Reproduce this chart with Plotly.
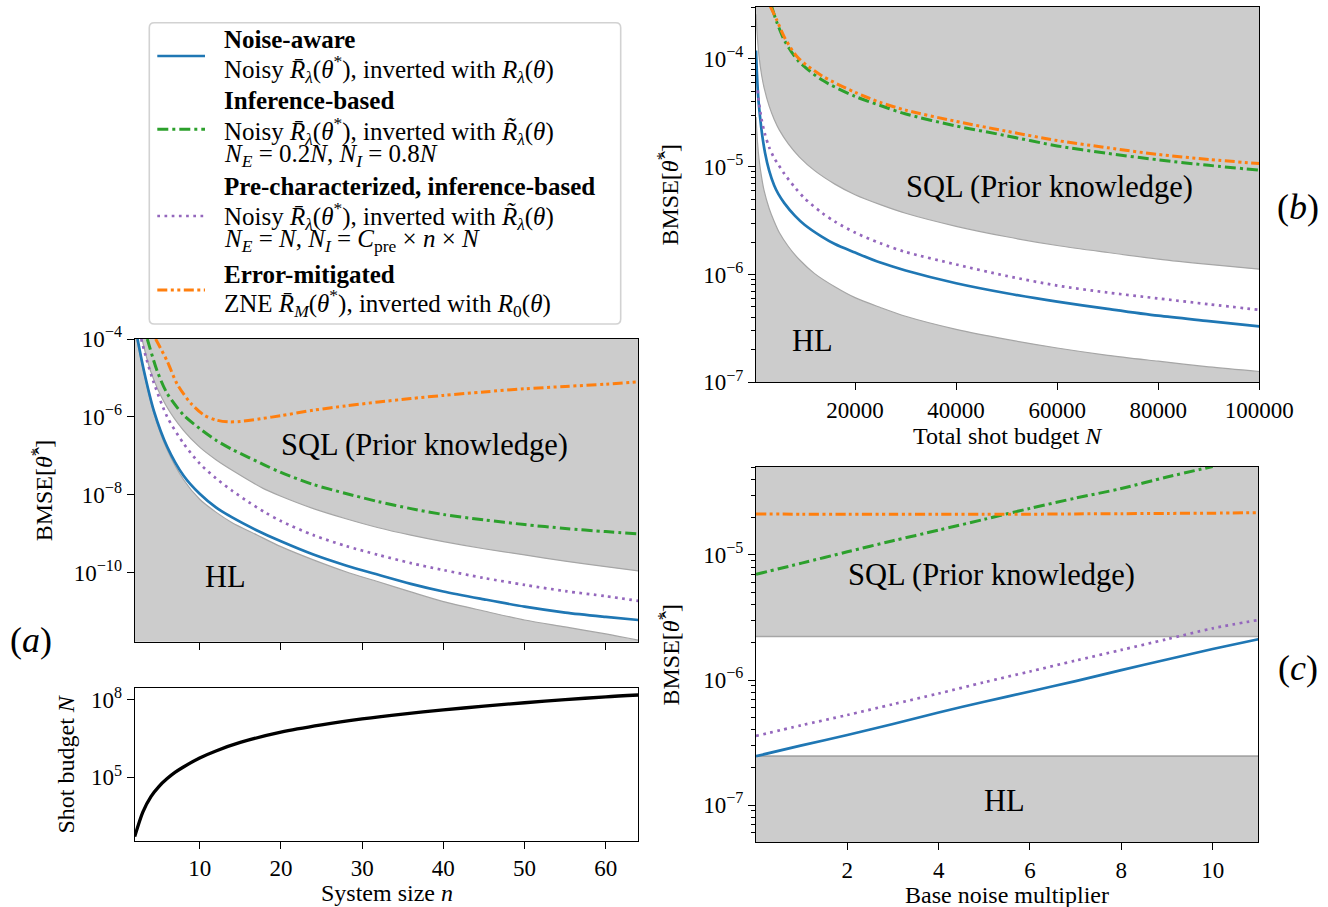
import plotly.graph_objects as go

# ---------------- data ----------------
# Panel (a): BMSE vs system size n
n_blue_a = [2.35, 3.15, 4.38, 6, 8, 10, 12, 14, 17, 20, 24, 28, 32, 36, 40, 45, 50, 55, 60, 64]
bmse_blue_a = [1.0e-4, 1.48e-5, 1.38e-6, 1.70e-7, 3.1e-8, 1.05e-8, 4.7e-9, 2.6e-9, 1.22e-9, 6.3e-10,
               2.88e-10, 1.51e-10, 8.7e-11, 5.1e-11, 3.24e-11, 2.04e-11, 1.32e-11, 9.3e-12, 7.2e-12, 6.0e-12]
n_purple_a = [2.8, 3.5, 4.3, 6, 8, 10, 12, 14, 16, 18, 20, 24, 28, 32, 36, 40, 45, 50, 55, 60, 64]
bmse_purple_a = [1.0e-4, 2.82e-5, 8.1e-6, 1.0e-6, 2.09e-7, 6.3e-8, 2.63e-8, 1.26e-8, 6.5e-9, 3.55e-9, 2.09e-9,
                 9.1e-10, 4.79e-10, 2.82e-10, 1.74e-10, 1.15e-10, 7.2e-11, 4.79e-11, 3.31e-11, 2.45e-11, 1.86e-11]
n_green_a = [3.55, 4.78, 6, 8, 10, 12, 14, 16, 18, 20, 24, 28, 32, 36, 40, 45, 50, 55, 60, 64]
bmse_green_a = [1.0e-4, 1.48e-5, 3.98e-6, 1.12e-6, 5.0e-7, 2.51e-7, 1.45e-7, 9.1e-8, 5.75e-8, 3.72e-8,
                1.82e-8, 1.07e-8, 6.6e-9, 4.37e-9, 3.09e-9, 2.24e-9, 1.70e-9, 1.35e-9, 1.12e-9, 9.8e-10]
n_orange_a = [4.58, 6, 7.25, 8.9, 10.5, 12, 13.5, 15, 17.5, 20, 24, 28, 32, 36, 40, 45, 50, 55, 60, 64]
bmse_orange_a = [1.0e-4, 2.69e-5, 6.8e-6, 2.24e-6, 1.12e-6, 8.3e-7, 7.4e-7, 7.6e-7, 8.9e-7, 1.07e-6,
                 1.48e-6, 1.91e-6, 2.40e-6, 2.95e-6, 3.55e-6, 4.37e-6, 5.25e-6, 6.03e-6, 6.9e-6, 7.9e-6]
n_sql_a = [2.9, 4, 5.8, 8, 10, 12, 14.2, 17.8, 20, 24, 28, 32, 36, 40, 45, 50, 55, 60, 64]
bmse_sql_a = [1.0e-4, 1.41e-5, 2.04e-6, 4.47e-7, 1.66e-7, 7.9e-8, 3.98e-8, 1.45e-8, 9.1e-9, 4.37e-9,
              2.40e-9, 1.41e-9, 9.1e-10, 6.2e-10, 4.07e-10, 2.82e-10, 1.95e-10, 1.41e-10, 1.10e-10]
n_hl_a = [2.25, 3.15, 4.38, 6, 8, 10, 12, 14, 17, 20, 24, 28, 32, 36, 40, 45, 50, 55, 60, 64]
bmse_hl_a = [1.0e-4, 1.30e-5, 1.20e-6, 1.42e-7, 2.45e-8, 7.6e-9, 3.55e-9, 1.90e-9, 9.3e-10, 4.6e-10,
             2.10e-10, 1.04e-10, 5.75e-11, 3.16e-11, 1.78e-11, 1.02e-11, 6.0e-12, 3.98e-12, 2.63e-12, 1.82e-12]

# Panel (a) bottom: shot budget vs n
n_budget = [2, 3, 4, 5, 6, 7, 8, 10, 12, 15, 20, 25, 30, 35, 40, 45, 50, 55, 60, 64]
shots_budget = [500, 4470, 1.78e4, 4.47e4, 8.9e4, 1.58e5, 2.51e5, 5.6e5, 1.05e6, 2.24e6, 5.6e6,
                1.07e7, 1.82e7, 2.82e7, 4.07e7, 5.75e7, 7.76e7, 1.02e8, 1.32e8, 1.55e8]

# Panel (b): BMSE vs total shot budget N
N_blue_b = [400, 600, 857, 1200, 1600, 2180, 3000, 4000, 4810, 6000, 8120, 10000, 13400, 16000, 20000,
            25000, 30000, 40000, 50000, 60000, 70000, 80000, 90000, 100000]
bmse_blue_b = [1.2e-4, 7.0e-5, 4.3e-5, 2.9e-5, 2.0e-5, 1.35e-5, 9.2e-6, 6.7e-6, 5.6e-6, 4.6e-6, 3.5e-6,
               2.9e-6, 2.25e-6, 1.92e-6, 1.6e-6, 1.29e-6, 1.09e-6, 8.3e-7, 6.7e-7, 5.6e-7, 4.8e-7,
               4.15e-7, 3.7e-7, 3.3e-7]
N_purple_b = [730, 1000, 1500, 2180, 3000, 4000, 4810, 6000, 8120, 10000, 13400, 16000, 20000, 25000,
              30000, 40000, 50000, 60000, 70000, 80000, 90000, 100000]
bmse_purple_b = [5.1e-5, 3.9e-5, 2.75e-5, 2.0e-5, 1.52e-5, 1.2e-5, 1.05e-5, 8.6e-6, 6.4e-6, 5.1e-6,
                 3.75e-6, 3.1e-6, 2.45e-6, 1.95e-6, 1.62e-6, 1.24e-6, 9.7e-7, 7.9e-7, 6.8e-7, 6.0e-7,
                 5.3e-7, 4.7e-7]
N_green_b = [3500, 4500, 6140, 8770, 13400, 20000, 25000, 29900, 39800, 49700, 60000, 70000, 80000,
             90000, 100000]
bmse_green_b = [3.05e-4, 2.2e-4, 1.45e-4, 9.6e-5, 6.4e-5, 4.5e-5, 3.7e-5, 3.1e-5, 2.4e-5, 1.95e-5,
                1.56e-5, 1.33e-5, 1.16e-5, 1.03e-5, 9.3e-6]
N_orange_b = [3200, 4500, 6140, 8770, 13400, 20000, 25000, 30000, 39800, 49700, 60000, 70000, 80000,
              90000, 100000]
bmse_orange_b = [3.1e-4, 2.3e-4, 1.55e-4, 1.02e-4, 7.0e-5, 4.9e-5, 3.95e-5, 3.35e-5, 2.65e-5, 2.15e-5,
                 1.75e-5, 1.5e-5, 1.3e-5, 1.17e-5, 1.07e-5]
N_bounds_b = [400, 700, 1000, 1500, 2000, 3000, 4000, 5000, 6800, 9000, 12000, 16000, 20000, 25000,
              30000, 40000, 50000, 60000, 70000, 80000, 90000, 100000]
bmse_sql_b = [2.6e-4, 1.5e-4, 1.05e-4, 7.1e-5, 5.4e-5, 3.65e-5, 2.75e-5, 2.2e-5, 1.63e-5, 1.23e-5,
              9.2e-6, 6.9e-6, 5.5e-6, 4.45e-6, 3.7e-6, 2.8e-6, 2.24e-6, 1.86e-6, 1.6e-6, 1.39e-6,
              1.24e-6, 1.12e-6]
bmse_hl_b = [2.9e-5, 1.68e-5, 1.18e-5, 8.0e-6, 6.0e-6, 4.1e-6, 3.1e-6, 2.45e-6, 1.82e-6, 1.37e-6,
             1.02e-6, 7.7e-7, 6.1e-7, 4.95e-7, 4.1e-7, 3.1e-7, 2.5e-7, 2.08e-7, 1.78e-7, 1.57e-7,
             1.39e-7, 1.26e-7]

# Panel (c): BMSE vs base noise multiplier
mult_c = [0, 1, 2, 3, 4, 5, 6, 7, 8, 9, 10, 11]
bmse_blue_c = [2.46e-7, 3.0e-7, 3.63e-7, 4.45e-7, 5.5e-7, 6.7e-7, 8.1e-7, 9.8e-7, 1.2e-6, 1.46e-6,
               1.77e-6, 2.12e-6]
bmse_purple_c = [3.57e-7, 4.35e-7, 5.25e-7, 6.4e-7, 7.8e-7, 9.6e-7, 1.17e-6, 1.43e-6, 1.74e-6,
                 2.12e-6, 2.59e-6, 3.02e-6]
mult_green_c = [0, 1, 2, 3, 4, 5, 6, 7, 8, 9, 10]
bmse_green_c = [7.0e-6, 8.6e-6, 1.06e-5, 1.3e-5, 1.58e-5, 1.93e-5, 2.36e-5, 2.85e-5, 3.4e-5, 4.2e-5, 5.1e-5]
bmse_orange_c = [2.13e-5, 2.12e-5, 2.12e-5, 2.12e-5, 2.12e-5, 2.12e-5, 2.12e-5, 2.13e-5, 2.14e-5,
                 2.15e-5, 2.16e-5, 2.18e-5]
mult_bounds_c = [0, 11]
bmse_sql_c = [2.23e-6, 2.23e-6]
bmse_hl_c = [2.46e-7, 2.46e-7]

# tick labels
ticks_a_y = [1e-4, 1e-6, 1e-8, 1e-10]
ticktext_a_y = ["10<sup>−4</sup>", "10<sup>−6</sup>", "10<sup>−8</sup>", "10<sup>−10</sup>"]
ticks_n = [10, 20, 30, 40, 50, 60]
ticks_budget = [1e5, 1e8]
ticktext_budget = ["10<sup>5</sup>", "10<sup>8</sup>"]
ticks_b_x = [20000, 40000, 60000, 80000, 100000]
ticks_b_y = [1e-7, 1e-6, 1e-5, 1e-4]
ticktext_b_y = ["10<sup>−7</sup>", "10<sup>−6</sup>", "10<sup>−5</sup>", "10<sup>−4</sup>"]
ticks_c_x = [2, 4, 6, 8, 10]
ticks_c_y = [1e-7, 1e-6, 1e-5]
ticktext_c_y = ["10<sup>−7</sup>", "10<sup>−6</sup>", "10<sup>−5</sup>"]
minor_b_y = [m * 10.0 ** e for e in (-7, -6, -5) for m in range(2, 10)] + [2e-4, 3e-4]
minor_c_y = [m * 1e-8 for m in (6, 7, 8, 9)] + [m * 10.0 ** e for e in (-7, -6) for m in range(2, 10)] + \
            [2e-5, 3e-5, 4e-5, 5e-5]

# ---------------- styling ----------------
FONT = "Liberation Serif, Times New Roman, serif"
W, H = 1328, 907
BLUE, ORANGE, GREEN, PURPLE = '#1f77b4', '#ff7f0e', '#2ca02c', '#9467bd'
GRAYFILL, GRAYLINE = '#cccccc', '#a6a6a6'
DASH_GREEN = '11px,4px,3px,4px'
DASH_PURPLE = '2.7px,4.5px'
DASH_ORANGE = '10px,3.5px,3px,3.5px,3px,3.5px'
LW = 2.7
TICK_SIZE, LEG_SIZE, TITLE_SIZE, REGION_SIZE = 23, 25, 24, 30.5


def px(x):
    return x / W


def py(y):
    return 1 - y / H


fig = go.Figure()


def add_line(x, y, ax, color, width, dash='solid', fill=None, fillcolor=None):
    fig.add_trace(go.Scatter(
        x=x, y=y, xaxis='x' + ax, yaxis='y' + ax, mode='lines',
        line=dict(color=color, width=width, dash=dash, shape='spline', smoothing=0.8),
        fill=fill, fillcolor=fillcolor, showlegend=False, hoverinfo='skip'))


# panel (a) top
add_line(n_hl_a, bmse_hl_a, '', GRAYLINE, 1.2)
add_line(n_sql_a, bmse_sql_a, '', GRAYLINE, 1.2, fill='tonexty', fillcolor='white')
add_line(n_blue_a, bmse_blue_a, '', BLUE, LW)
add_line(n_green_a, bmse_green_a, '', GREEN, 3.0, DASH_GREEN)
add_line(n_purple_a, bmse_purple_a, '', PURPLE, LW, DASH_PURPLE)
add_line(n_orange_a, bmse_orange_a, '', ORANGE, 3.0, DASH_ORANGE)
# panel (a) bottom
add_line(n_budget, shots_budget, '2', 'black', 3.3)
# panel (b)
add_line(N_bounds_b, bmse_hl_b, '3', GRAYLINE, 1.2)
add_line(N_bounds_b, bmse_sql_b, '3', GRAYLINE, 1.2, fill='tonexty', fillcolor='white')
add_line(N_blue_b, bmse_blue_b, '3', BLUE, LW)
add_line(N_green_b, bmse_green_b, '3', GREEN, 3.0, DASH_GREEN)
add_line(N_purple_b, bmse_purple_b, '3', PURPLE, LW, DASH_PURPLE)
add_line(N_orange_b, bmse_orange_b, '3', ORANGE, 3.0, DASH_ORANGE)
# panel (c)
add_line(mult_bounds_c, bmse_hl_c, '4', GRAYLINE, 1.6)
add_line(mult_bounds_c, bmse_sql_c, '4', GRAYLINE, 1.6, fill='tonexty', fillcolor='white')
add_line(mult_c, bmse_blue_c, '4', BLUE, LW)
add_line(mult_green_c, bmse_green_c, '4', GREEN, 3.0, DASH_GREEN)
add_line(mult_c, bmse_purple_c, '4', PURPLE, LW, DASH_PURPLE)
add_line(mult_c, bmse_orange_c, '4', ORANGE, 3.0, DASH_ORANGE)

# ---------------- axes ----------------
A_X, A_Y = (134.7, 638.3), (339.0, 641.7)
N_X, N_Y = (134.7, 638.3), (688.3, 840.7)
B_X, B_Y = (756.0, 1259.3), (6.7, 382.3)
C_X, C_Y = (756.0, 1258.3), (466.7, 842.3)

common = dict(showline=True, mirror=True, linecolor='black', linewidth=1.3, ticks='outside',
              ticklen=7, tickwidth=1.3, tickcolor='black', showgrid=False, zeroline=False,
              automargin=False, tickfont=dict(family=FONT, size=TICK_SIZE, color='black'))


def xdom(d):
    return [px(d[0]), px(d[1])]


def ydom(d):
    return [py(d[1]), py(d[0])]


minor_style = dict(ticks='outside', ticklen=4, tickwidth=1, tickcolor='black', showgrid=False,
                   tickmode='array')

fig.update_layout(
    xaxis=dict(common, domain=xdom(A_X), range=[2, 64], anchor='y', tickmode='array',
               tickvals=ticks_n, showticklabels=False),
    yaxis=dict(common, domain=ydom(A_Y), type='log', range=[-11.78, -4], anchor='x',
               tickmode='array', tickvals=ticks_a_y, ticktext=ticktext_a_y),
    xaxis2=dict(common, domain=xdom(N_X), range=[2, 64], anchor='y2', tickmode='array',
                tickvals=ticks_n, ticktext=[str(v) for v in ticks_n]),
    yaxis2=dict(common, domain=ydom(N_Y), type='log', range=[2.54, 8.45], anchor='x2',
                tickmode='array', tickvals=ticks_budget, ticktext=ticktext_budget),
    xaxis3=dict(common, domain=xdom(B_X), range=[396, 100000], anchor='y3', tickmode='array',
                tickvals=ticks_b_x, ticktext=[str(v) for v in ticks_b_x]),
    yaxis3=dict(common, domain=ydom(B_Y), type='log', range=[-7, -3.515], anchor='x3',
                tickmode='array', tickvals=ticks_b_y, ticktext=ticktext_b_y,
                minor=dict(minor_style, tickvals=minor_b_y)),
    xaxis4=dict(common, domain=xdom(C_X), range=[0, 11], anchor='y4', tickmode='array',
                tickvals=ticks_c_x, ticktext=[str(v) for v in ticks_c_x]),
    yaxis4=dict(common, domain=ydom(C_Y), type='log', range=[-7.298, -4.294], anchor='x4',
                tickmode='array', tickvals=ticks_c_y, ticktext=ticktext_c_y,
                minor=dict(minor_style, tickvals=minor_c_y)),
)

# ---------------- shapes ----------------
shapes = []
for xa, ya in (('x', 'y'), ('x3', 'y3'), ('x4', 'y4')):
    shapes.append(dict(type='rect', xref=xa + ' domain', yref=ya + ' domain', x0=0, x1=1, y0=0, y1=1,
                       fillcolor=GRAYFILL, line=dict(width=0), layer='below'))

# legend frame (rounded)
lx0, ly0, lx1, ly1, r = 149.3, 22.7, 620.7, 324.0, 5.0
pts = [
    ('M', lx0 + r, ly0), ('L', lx1 - r, ly0), ('Q', lx1, ly0, lx1, ly0 + r), ('L', lx1, ly1 - r),
    ('Q', lx1, ly1, lx1 - r, ly1), ('L', lx0 + r, ly1), ('Q', lx0, ly1, lx0, ly1 - r),
    ('L', lx0, ly0 + r), ('Q', lx0, ly0, lx0 + r, ly0)]
path = ''
for p in pts:
    cmd = p[0]
    coords = p[1:]
    pairs = ['%.5f,%.5f' % (px(coords[i]), py(coords[i + 1])) for i in range(0, len(coords), 2)]
    path += cmd + ' ' + ' '.join(pairs) + ' '
path += 'Z'
shapes.append(dict(type='path', xref='paper', yref='paper', path=path, fillcolor='white',
                   line=dict(color='#d2d2d2', width=1.6), layer='above'))

handles = [(56.0, BLUE, LW, 'solid'), (129.3, GREEN, 3.0, DASH_GREEN),
           (216.0, PURPLE, LW, DASH_PURPLE), (290.0, ORANGE, 3.0, DASH_ORANGE)]
for yc, col, w, d in handles:
    shapes.append(dict(type='line', xref='paper', yref='paper', x0=px(157.3), x1=px(205.0),
                       y0=py(yc), y1=py(yc), line=dict(color=col, width=w, dash=d), layer='above'))

# ---------------- annotations ----------------
ann = []


def text(x, y, s, size, xanchor='center', angle=0, xref='paper', yref='paper'):
    ann.append(dict(x=x, y=y, xref=xref, yref=yref, text=s, showarrow=False, xanchor=xanchor,
                    yanchor='middle', textangle=angle,
                    font=dict(family=FONT, size=size, color='black')))


RBAR = '<i>R̄</i>'
RTIL = '<i>R̃</i>'
lam = '<sub><i>λ</i></sub>'
theta_star = '(<i>θ</i><sup>*</sup>)'
legend_rows = [
    (40.0, '<b>Noise-aware</b>'),
    (69.3, 'Noisy ' + RBAR + lam + theta_star + ', inverted with <i>R</i>' + lam + '(<i>θ</i>)'),
    (101.0, '<b>Inference-based</b>'),
    (131.0, 'Noisy ' + RBAR + lam + theta_star + ', inverted with ' + RTIL + lam + '(<i>θ</i>)'),
    (155.0, '<i>N</i><sub><i>E</i></sub> = 0.2<i>N</i>, <i>N</i><sub><i>I</i></sub> = 0.8<i>N</i>'),
    (186.7, '<b>Pre-characterized, inference-based</b>'),
    (216.0, 'Noisy ' + RBAR + lam + theta_star + ', inverted with ' + RTIL + lam + '(<i>θ</i>)'),
    (240.7, '<i>N</i><sub><i>E</i></sub> = <i>N</i>, <i>N</i><sub><i>I</i></sub> = <i>C</i><sub>pre</sub> × <i>n</i> × <i>N</i>'),
    (274.0, '<b>Error-mitigated</b>'),
    (303.3, 'ZNE ' + RBAR + '<sub><i>M</i></sub>' + theta_star + ', inverted with <i>R</i><sub>0</sub>(<i>θ</i>)'),
]
for yc, s in legend_rows:
    text(px(222.3), py(yc), s, LEG_SIZE, xanchor='left')

# region labels
text(0.576, 0.650, 'SQL (Prior knowledge)', REGION_SIZE, xref='x domain', yref='y domain')
text(0.181, 0.214, 'HL', REGION_SIZE, xref='x domain', yref='y domain')
text(0.584, 0.520, 'SQL (Prior knowledge)', REGION_SIZE, xref='x3 domain', yref='y3 domain')
text(0.113, 0.110, 'HL', REGION_SIZE, xref='x3 domain', yref='y3 domain')
text(0.469, 0.712, 'SQL (Prior knowledge)', REGION_SIZE, xref='x4 domain', yref='y4 domain')
text(0.494, 0.110, 'HL', REGION_SIZE, xref='x4 domain', yref='y4 domain')

# panel labels
text(px(31), py(640), '(<i>a</i>)', 36)
text(px(1298), py(207), '(<i>b</i>)', 36)
text(px(1298), py(668), '(<i>c</i>)', 36)

# axis titles
bmse = 'BMSE[<i>θ̂</i><sup>*</sup>]'
text(px(42), py(490.35), bmse, TITLE_SIZE, angle=-90)
text(px(65), py(764.5), 'Shot budget <i>N</i>', TITLE_SIZE, angle=-90)
text(px(668), py(194.5), bmse, TITLE_SIZE, angle=-90)
text(px(668), py(654.5), bmse, TITLE_SIZE, angle=-90)
text(px(386.5), py(893), 'System size <i>n</i>', TITLE_SIZE)
text(px(1007.6), py(436), 'Total shot budget <i>N</i>', TITLE_SIZE)
text(px(1007.2), py(895), 'Base noise multiplier', TITLE_SIZE)

fig.update_layout(
    width=W, height=H, margin=dict(l=0, r=0, t=0, b=0, autoexpand=False),
    paper_bgcolor='white', plot_bgcolor='white', showlegend=False,
    font=dict(family=FONT, size=TICK_SIZE, color='black'),
    shapes=shapes, annotations=ann,
)

fig.write_html("out.html", config={'displayModeBar': False})
